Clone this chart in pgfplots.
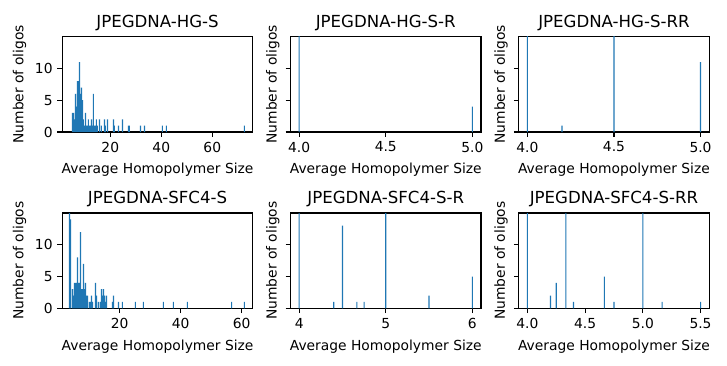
\documentclass[border=0pt]{standalone}
\usepackage{pgfplots}
\pgfplotsset{compat=1.18}
\usepackage{fontspec}
\setmainfont{DejaVu Sans}
\definecolor{mplblue}{HTML}{1F77B4}

\pgfplotsset{
  hist/.style={
    scale only axis, width=1.905in, height=0.953in,
    ymin=0, ymax=15, ytick={0,5,10},
    axis line style={line width=0.8pt},
    tick align=outside, major tick length=3.5pt,
    every tick/.style={black, line width=0.8pt},
    tick pos=left,
    /pgf/number format/assume math mode=true,
    tick label style={font=\fontsize{10}{12}\selectfont},
    label style={font=\fontsize{10}{12}\selectfont},
    title style={font=\fontsize{12}{14}\selectfont, at={(axis description cs:0.5,1)}, anchor=base, yshift=0.012in},
    xlabel={Average Homopolymer Size},
    ylabel={Number of oligos},
    xlabel style={at={(axis description cs:0.5,0)}, anchor=north, yshift=-0.265in},
  },
  firstcol/.style={ylabel style={at={(axis description cs:-0.164,0.5)}, anchor=south}},
  othercol/.style={yticklabels={}, ylabel style={at={(axis description cs:-0.032,0.5)}, anchor=south}},
  onedec/.style={xticklabel style={/pgf/number format/.cd, fixed, fixed zerofill, precision=1}},
  thin/.style={ybar, bar shift=0pt, bar width=0.011in, fill=mplblue, draw=none},
}

\begin{document}
\begin{tikzpicture}
\useasboundingbox (0,0) rectangle (7.27in,-3.66in);

% top row
\begin{axis}[hist, firstcol, at={(0.623in,-1.32in)}, anchor=south west,
  title={JPEGDNA-HG-S}, xmin=1.18, xmax=75.9, xtick={20,40,60}]
\addplot[ybar, bar shift=0pt, bar width=0.4, fill=mplblue, draw=none] coordinates {
(5.18,3) (5.57,3) (5.96,2) (6.36,6) (6.75,4) (7.14,8) (7.53,8) (7.93,11) (8.32,6)
(8.71,7) (9.10,5) (9.49,2) (9.89,1) (10.28,3) (10.67,1) (11.06,1) (11.45,2)
(11.85,1) (12.24,1) (12.63,2) (13.02,1) (13.41,6) (13.81,1) (14.20,1) (14.59,2)
(14.98,1) (15.77,2) (16.55,1) (17.73,2) (18.12,1) (18.91,2) (21.26,2) (21.65,1)
(23.22,1) (24.79,2) (27.14,1) (27.53,1) (31.85,1) (33.42,1) (40.47,1) (42.04,1)
(72.63,1)};
\end{axis}

\begin{axis}[hist, othercol, onedec, at={(2.905in,-1.32in)}, anchor=south west,
  title={JPEGDNA-HG-S-R}, xmin=3.95, xmax=5.05, xtick={4,4.5,5}]
\addplot[thin] coordinates {(4.0,30) (5.0,4)};
\end{axis}

\begin{axis}[hist, othercol, onedec, at={(5.187in,-1.32in)}, anchor=south west,
  title={JPEGDNA-HG-S-RR}, xmin=3.95, xmax=5.05, xtick={4,4.5,5}]
\addplot[thin] coordinates {(4.0,30) (4.2,1) (4.5,30) (5.0,11)};
\end{axis}

% bottom row
\begin{axis}[hist, firstcol, at={(0.623in,-3.083in)}, anchor=south west,
  title={JPEGDNA-SFC4-S}, xmin=1.18, xmax=63.64, xtick={20,40,60}]
\addplot[ybar, bar shift=0pt, bar width=0.34, fill=mplblue, draw=none] coordinates {
(3.54,16) (3.87,14) (4.52,3) (4.85,2) (5.18,4) (5.51,4) (5.84,4) (6.16,8) (6.49,4)
(6.82,4) (7.15,12) (7.48,3) (7.80,3) (8.13,7) (8.46,3) (8.79,4) (9.11,2) (9.44,2)
(10.10,1) (10.43,1) (10.75,2) (11.08,1) (12.07,4) (12.39,2) (13.05,1) (13.71,1)
(14.03,3) (14.36,2) (14.69,3) (15.02,2) (15.34,1) (15.67,2) (17.64,1) (17.97,2)
(19.61,1) (20.85,1) (25.11,1) (27.74,1) (34.30,1) (37.58,1) (42.16,1) (56.72,1)
(60.85,1)};
\end{axis}

\begin{axis}[hist, othercol, at={(2.905in,-3.083in)}, anchor=south west,
  title={JPEGDNA-SFC4-S-R}, xmin=3.9, xmax=6.1, xtick={4,5,6}]
\addplot[thin] coordinates {(4.0,30) (4.4,1) (4.5,13) (4.667,1) (4.75,1) (5.0,30) (5.5,2) (6.0,5)};
\end{axis}

\begin{axis}[hist, othercol, onedec, at={(5.187in,-3.083in)}, anchor=south west,
  title={JPEGDNA-SFC4-S-RR}, xmin=3.925, xmax=5.575, xtick={4,4.5,5,5.5}]
\addplot[thin] coordinates {(4.0,30) (4.2,2) (4.25,4) (4.333,30) (4.4,1) (4.667,5) (4.75,1) (5.0,30) (5.167,1) (5.5,1)};
\end{axis}
\end{tikzpicture}
\end{document}
